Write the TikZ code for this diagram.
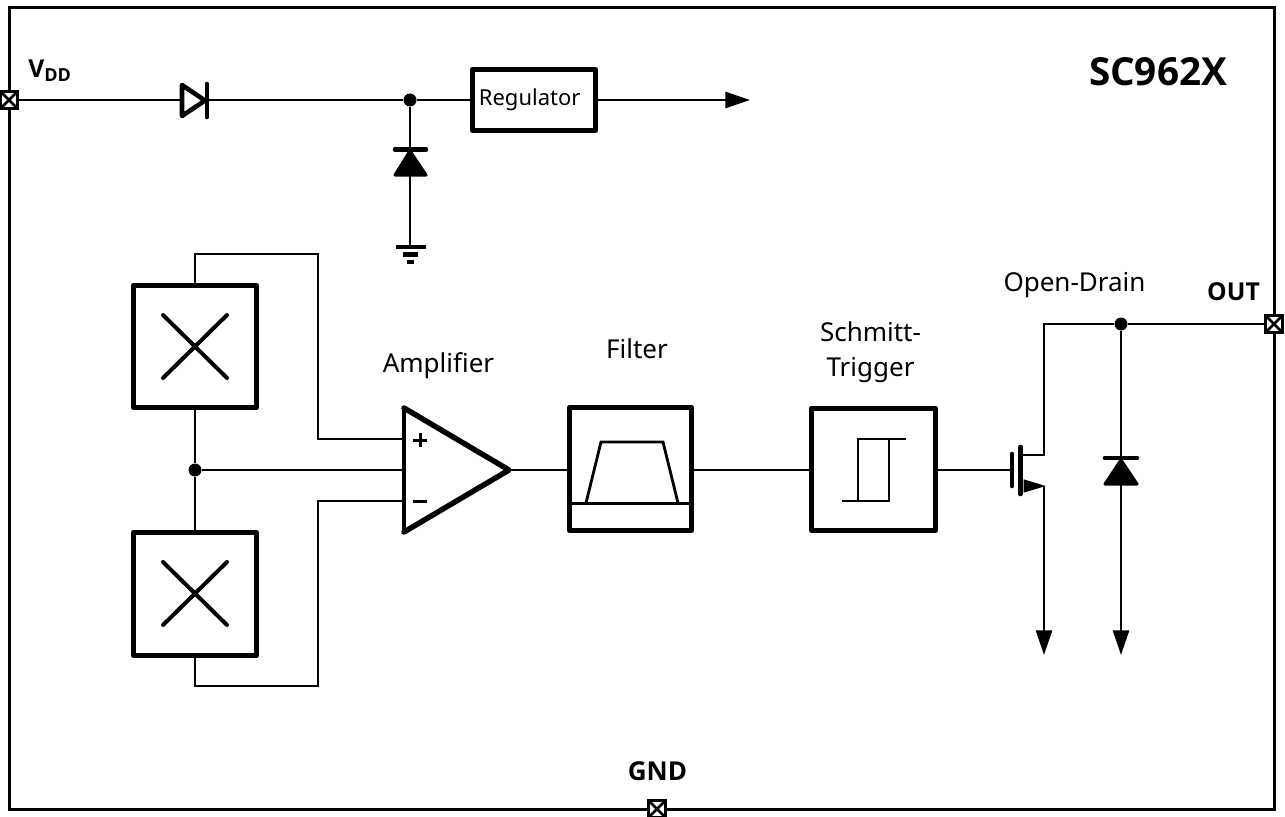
\documentclass[tikz,border=0pt]{standalone}
\usepackage{fontspec}
\setmainfont{Noto Sans}
\newfontfamily\boldfam{Open Sans}
\usetikzlibrary{arrows.meta,calc}
\tikzset{
  wire/.style={line width=2.8pt*0.75,line cap=butt},
  flow/.style={wire,-{Triangle[length=18.5pt,width=12pt]}},
  block/.style={draw,line width=5.2pt*0.75,line join=round,inner sep=0pt},
  pad/.style={draw,fill=white,line width=3pt*0.75,minimum size=0.75pt*17,inner sep=0pt,
    path picture={\draw[line width=2.6pt*0.75] (path picture bounding box.south west)--(path picture bounding box.north east)
      (path picture bounding box.north west)--(path picture bounding box.south east);}},
  dot/.style={circle,fill,inner sep=0pt,minimum size=0.75pt*13},
  heavy/.style={line width=4.6pt*0.75,line cap=round,line join=round},
  diodefill/.style={fill,draw,line width=3pt*0.75,line join=round},
  caption/.style={font=\fontsize{19.5pt}{26pt}\selectfont,align=center,inner sep=0pt},
  pinlabel/.style={font=\fontsize{18.5pt}{20pt}\selectfont\boldfam\bfseries,inner sep=0pt}
}
\begin{document}
\begin{tikzpicture}[x=0.75pt,y=-0.75pt]
\useasboundingbox (0,0) rectangle (1285,817);
% frame
\node[draw,line width=3pt*0.75,minimum width=0.75pt*1265,minimum height=0.75pt*801,inner sep=0pt] (frame) at (641.5,408.5) {};
% pads
\node[pad] (vdd) at (9,100) {};
\node[pad] (out) at (1274,324) {};
\node[pad] (gnd) at (657,809) {};
% pin labels
\node[pinlabel,anchor=base west] (vddl) at (28,78) {V\raisebox{-3pt}{\fontsize{13.5pt}{14pt}\selectfont\boldfam\bfseries DD}};
\node[pinlabel,anchor=base] (outl) at (1233.5,300) {OUT};
\node[pinlabel,anchor=base,font=\fontsize{19.5pt}{20pt}\selectfont\boldfam\bfseries] (gndl) at (657.5,780) {GND};
\node[anchor=base,inner sep=0pt,font=\fontsize{29pt}{32pt}\selectfont\boldfam\bfseries] (title) at (1158,85) {SC962X};
% top rail
\coordinate (d1in) at (182,100);
\coordinate (d1out) at (207,100);
\node[dot] (j1) at (410,100) {};
\node[block,minimum width=0.75pt*123,minimum height=0.75pt*61,font=\fontsize{16.5pt}{18pt}\selectfont] (reg) at (534,100) {\raisebox{-1.2pt}{\hspace{-6.5pt}Regulator}};
\coordinate (regout) at (750,100);
\draw[wire] (vdd) -- (d1in);
\draw[heavy] (182,85) -- (182,116) -- (205,100.5) -- cycle;
\draw[heavy] (207,84) -- (207,117);
\draw[wire] (d1out) -- (j1) -- (reg);
\draw[flow] (reg) -- (regout);
% clamp diode and ground
\coordinate (gt) at (410,247);
\draw[wire] (j1) -- (gt);
\draw[heavy] (395,149.5) -- (426,149.5);
\draw[diodefill] (410,151) -- (395,175) -- (426,175) -- cycle;
\draw[line width=4.4pt*0.75] (396,247) -- (426,247);
\draw[line width=4.4pt*0.75] (403,254.5) -- (418,254.5);
\draw[line width=4.4pt*0.75] (407,262) -- (414,262);
% hall plates
\node[block,minimum width=0.75pt*123,minimum height=0.75pt*122] (h1) at (195,346.5) {};
\node[block,minimum width=0.75pt*123,minimum height=0.75pt*123] (h2) at (195,594) {};
\draw[line width=4pt*0.75,line cap=round] (163,315)--(227,378) (227,315)--(163,378);
\draw[line width=4pt*0.75,line cap=round] (163,562)--(227,625) (227,562)--(163,625);
\node[dot] (j2) at (195,470) {};
\draw[wire] (h1) -- (j2) -- (h2);
% amplifier
\coordinate (ampa) at (404,408);
\coordinate (ampb) at (404,532);
\coordinate (ampc) at (509,470);
\draw[line width=3.4pt*0.75,line cap=round] (ampa) -- (ampb);
\draw[line width=5.4pt*0.75,line cap=round,line join=round] (ampa) -- (ampc) -- (ampb);
\draw[line width=3pt*0.75] (413,440)--(427,440) (420,433)--(420,447);
\draw[line width=3pt*0.75] (413,501)--(427,501);
\draw[wire] (h1.north) -- (195,254) -- (318,254) -- (318,439) -- (404,439);
\draw[wire] (j2) -- (404,470);
\draw[wire] (h2.south) -- (195,686) -- (318,686) -- (318,501) -- (404,501);
% filter
\node[block,minimum width=0.75pt*122,minimum height=0.75pt*123] (filter) at (630.5,469) {};
\draw[wire] (ampc) -- (filter.west |- ampc);
\draw[wire] (filter.west |- 0,503.5) -- (filter.east |- 0,503.5);
\draw[wire,line join=miter] (586,503) -- (601,442) -- (663,442) -- (678,503);
% schmitt
\node[block,minimum width=0.75pt*124,minimum height=0.75pt*122] (st) at (873.5,469.5) {};
\draw[wire] (filter.east |- 0,470) -- (st.west |- 0,470);
\draw[wire] (842,501) -- (889,501) -- (889,439);
\draw[wire] (858,501) -- (858,439) -- (906,439);
% mosfet
\coordinate (gate) at (1012,470);
\draw[wire] (st.east |- 0,470) -- (gate);
\draw[heavy] (1012,454) -- (1012,486);
\draw[heavy] (1020.5,447) -- (1020.5,494);
\node[dot] (j3) at (1121,324) {};
\draw[wire] (1021,455) -- (1044,455) -- (1044,324) -- (j3) -- (out);
\draw[fill,line width=1pt*0.75] (1024,480) -- (1044,486) -- (1024,492) -- cycle;
\coordinate (s1) at (1044,655);
\coordinate (s2) at (1121,655);
\draw[flow] (1044,486) -- (s1);
% esd diode
\draw[flow] (j3) -- (s2);
\draw[heavy] (1105,458) -- (1137,458);
\draw[diodefill] (1121,460) -- (1105,484) -- (1137,484) -- cycle;
% captions
\node[caption,anchor=base] (capamp) at (438.5,372.5) {Amplifier};
\node[caption,anchor=base] (capf) at (637,358) {Filter};
\node[caption] (caps) at (870.5,352) {Schmitt-\\Trigger};
\node[caption,anchor=base] (capo) at (1074.5,291) {Open-Drain};
\end{tikzpicture}
\end{document}
